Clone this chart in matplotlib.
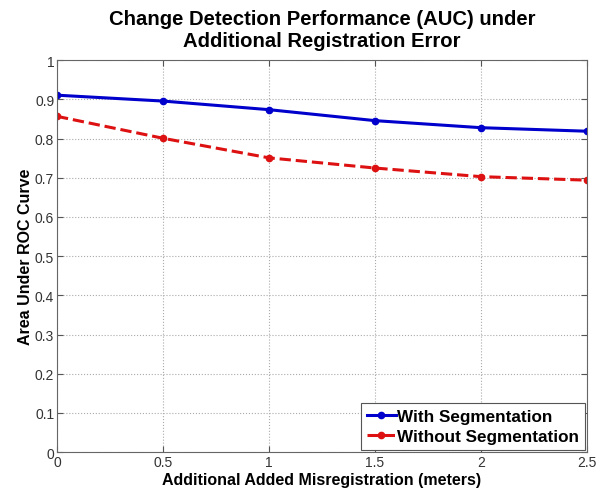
import matplotlib
matplotlib.use('Agg')
import matplotlib.pyplot as plt

plt.rcParams['font.family'] = ['Liberation Sans', 'DejaVu Sans']

# misregistration added (meters)
offsets = [0, 0.5, 1, 1.5, 2, 2.5]
auc_seg = [0.911, 0.896, 0.874, 0.846, 0.828, 0.819]
auc_noseg = [0.857, 0.801, 0.751, 0.725, 0.703, 0.694]
xticks = [0, 0.5, 1, 1.5, 2, 2.5]
xtick_labels = ['0', '0.5', '1', '1.5', '2', '2.5']
yticks = [0, 0.1, 0.2, 0.3, 0.4, 0.5, 0.6, 0.7, 0.8, 0.9, 1]
ytick_labels = ['0', '0.1', '0.2', '0.3', '0.4', '0.5', '0.6', '0.7', '0.8', '0.9', '1']

fig = plt.figure(figsize=(6.03, 4.89), dpi=100)
ax = fig.add_axes([0.0945, 0.0736, 0.879, 0.801])

ax.plot(offsets, auc_seg, '-', color='#0000cc', lw=2.2, marker='o', ms=4.5,
        label='With Segmentation')
ax.plot(offsets, auc_noseg, '--', color='#dd1111', lw=2.2, marker='o', ms=4.5,
        label='Without Segmentation')

ax.set_xlim(0, 2.5)
ax.set_ylim(0, 1)
ax.set_xticks(xticks)
ax.set_xticklabels(xtick_labels)
ax.set_yticks(yticks)
ax.set_yticklabels(ytick_labels)
ax.tick_params(direction='in', top=True, right=True, labelsize=10,
               labelcolor='#333333', color='#555555', length=4, pad=2)
ax.grid(True, linestyle=':', color='#aaaaaa', lw=0.8)
for s in ax.spines.values():
    s.set_color('#666666')
    s.set_linewidth(0.8)

ax.set_title('Change Detection Performance (AUC) under\nAdditional Registration Error',
             fontsize=14.6, fontweight='bold', pad=10, linespacing=1.25)
ax.set_xlabel('Additional Added Misregistration (meters)', fontsize=11.5,
              fontweight='bold', labelpad=2)
ax.set_ylabel('Area Under ROC Curve', fontsize=11.5, fontweight='bold', labelpad=1)

leg = ax.legend(loc='lower right', fancybox=False, framealpha=1,
                edgecolor='#555555', prop={'weight': 'bold', 'size': 12.3},
                handlelength=1.7, handletextpad=0.1, borderpad=0.35,
                labelspacing=0.3, borderaxespad=0.1)
leg.get_frame().set_linewidth(0.8)

fig.savefig('out.png', dpi=100)
